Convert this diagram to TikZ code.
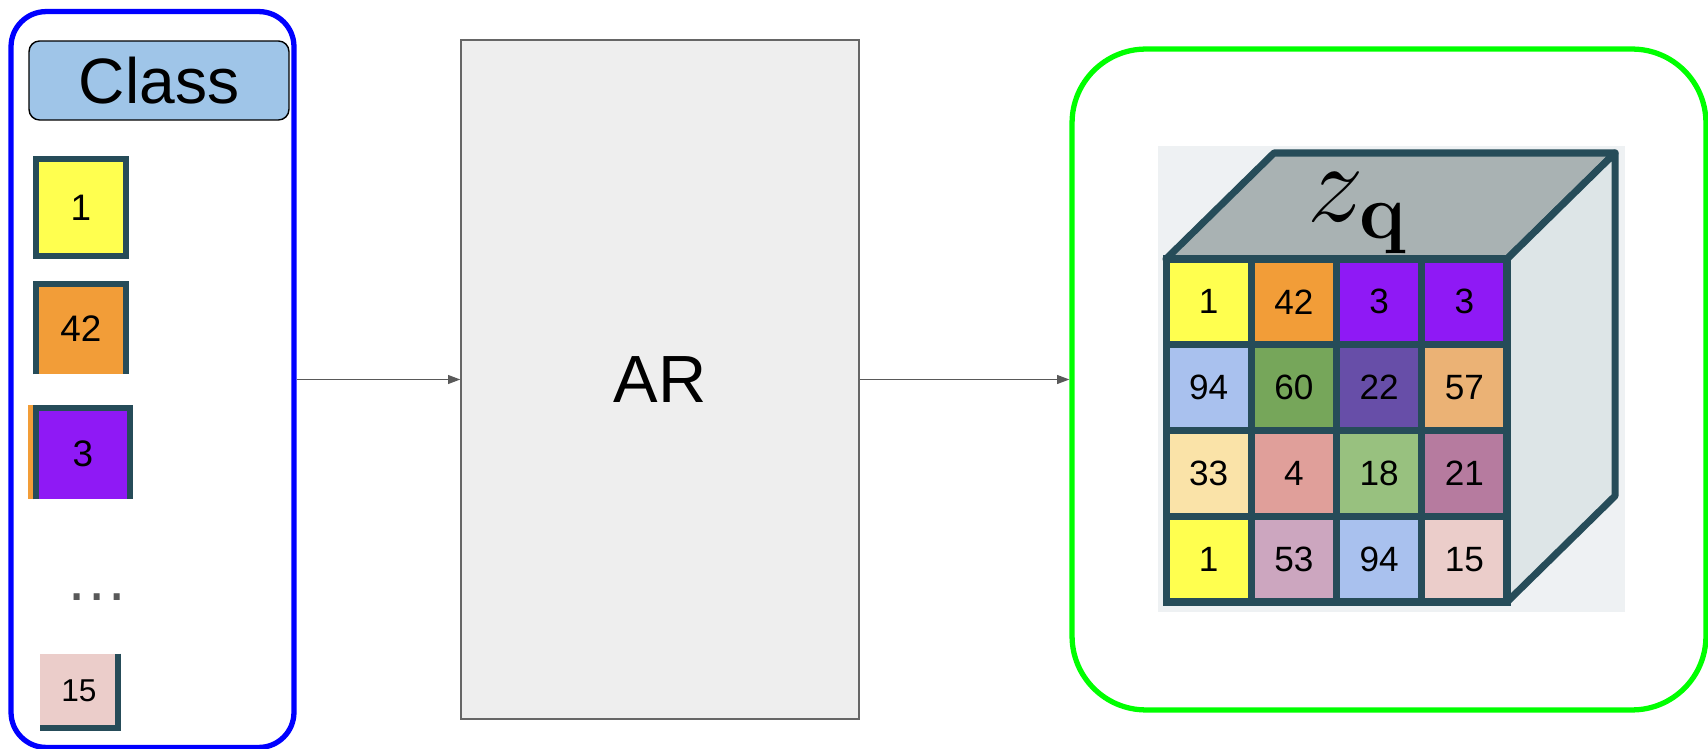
\documentclass[tikz,border=0pt]{standalone}
\usepackage[no-math]{fontspec}
\setmainfont{Liberation Sans}
\usetikzlibrary{arrows.meta}

\definecolor{yel}{HTML}{FFFF4F}
\definecolor{org}{HTML}{F29D38}
\definecolor{pur}{HTML}{8F19F5}
\definecolor{lblue}{HTML}{A9C1EE}
\definecolor{grn}{HTML}{76A65A}
\definecolor{dpur}{HTML}{674EA8}
\definecolor{lorg}{HTML}{EBB275}
\definecolor{pyel}{HTML}{FAE3A8}
\definecolor{rose}{HTML}{E09F9A}
\definecolor{lgrn}{HTML}{98C17F}
\definecolor{mauve}{HTML}{B67B9F}
\definecolor{lmauve}{HTML}{CCA6BF}
\definecolor{pink}{HTML}{EBCDCA}
\definecolor{cellline}{HTML}{264C59}
\definecolor{cubetop}{HTML}{A9B2B3}
\definecolor{cubeside}{HTML}{DDE5E7}
\definecolor{cubebg}{HTML}{EEF1F3}
\definecolor{classblue}{HTML}{9FC5E8}
\definecolor{argray}{HTML}{EEEEEE}
\definecolor{arline}{HTML}{666666}
\definecolor{arrowgray}{HTML}{595959}

\tikzset{
  token/.style={inner sep=0pt, font=\fontsize{21}{24}\selectfont},
  tokenline/.style={draw=cellline, line width=3.4pt},
  cell/.style={draw=cellline, line width=4pt, inner sep=0pt,
    minimum width=1.705cm, minimum height=1.715cm, font=\fontsize{20}{24}\selectfont},
  flow/.style={draw=arrowgray, line width=0.9pt, -{Triangle[length=7pt,width=5pt]}}
}

\begin{document}
\begin{tikzpicture}[x=0.02cm,y=-0.02cm]
  \useasboundingbox (0,0) rectangle (1708,749);

  \node[draw=blue, line width=3pt, rounded corners=20pt,
    minimum width=5.66cm, minimum height=14.72cm] (classes) at (152.5,379.5) {};
  \node[draw=black, fill=classblue, line width=0.8pt, rounded corners=6pt,
    minimum width=5.2cm, minimum height=1.58cm, inner sep=0pt,
    font=\fontsize{36.5}{40}\selectfont] (classhdr) at (159,80.5) {Class};

  \node[token, fill=yel, tokenline, minimum width=1.8cm, minimum height=1.94cm] (t1) at (81,207.5) {1};
  \node[token, fill=org, minimum width=1.8cm, minimum height=1.8cm] (t42) at (81,329) {42};
  \draw[tokenline] (t42.south west) -- (t42.north west) -- (t42.north east) -- (t42.south east);
  \fill[org] (28,405) rectangle (33,499);
  \node[token, fill=pur, minimum width=1.88cm, minimum height=1.82cm] (t3) at (83,453.5) {3};
  \draw[tokenline] (t3.south west) -- (t3.north west) -- (t3.north east) -- (t3.south east);
  \node[text=arrowgray, font=\fontsize{36}{40}\selectfont] (more) at (97,597) {\dots};
  \node[token, fill=pink, minimum width=1.56cm, minimum height=1.48cm,
    font=\fontsize{18}{20}\selectfont] (t15) at (79,691) {15};
  \draw[tokenline] (t15.north east) -- (t15.south east) -- (t15.south west);

  \node[draw=arline, fill=argray, line width=0.8pt, minimum width=7.96cm, minimum height=13.58cm,
    font=\fontsize{38}{44}\selectfont] (ar) at (660,379.5) {AR};

  \node[draw=green, line width=3pt, rounded corners=42pt,
    minimum width=12.68cm, minimum height=13.22cm] (zbox) at (1389,379.5) {};

  \fill[cubebg] (1158,146) rectangle (1625,612);
  \filldraw[fill=cubetop, draw=cellline, line width=4pt, line join=round]
    (1166,259) -- (1274,153) -- (1615,153) -- (1507,259) -- cycle;
  \filldraw[fill=cubeside, draw=cellline, line width=4pt, line join=round]
    (1507,259) -- (1615,153) -- (1615,496) -- (1507,602) -- cycle;
  \node[font=\huge, scale=3.1] (zq) at (1358,213) {$z_{\mathbf{q}}$};
  \foreach \val/\col [count=\k from 0] in {1/yel,42/org,3/pur,3/pur,94/lblue,60/grn,22/dpur,57/lorg,
      33/pyel,4/rose,18/lgrn,21/mauve,1/yel,53/lmauve,94/lblue,15/pink} {
    \pgfmathtruncatemacro\cx{mod(\k,4)}
    \pgfmathtruncatemacro\cy{div(\k,4)}
    \node[cell, fill=\col] (z\k) at ({1166+85.25*(\cx+0.5)},{259+85.75*(\cy+0.5)}) {\val};
  }

  \draw[flow] (classes.east) -- (ar.west);
  \draw[flow] (ar.east) -- (zbox.west);
\end{tikzpicture}
\end{document}
